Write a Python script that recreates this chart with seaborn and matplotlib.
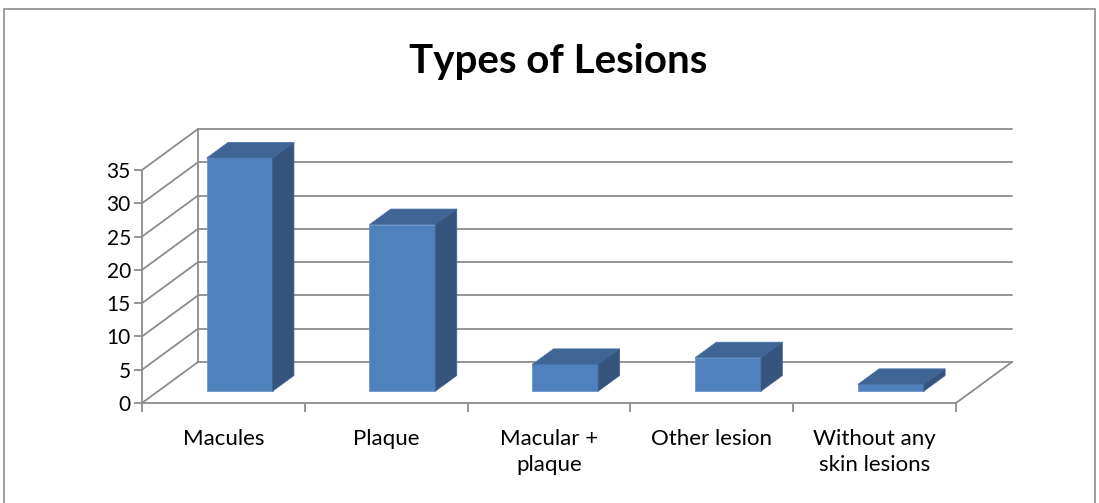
import numpy as np
import matplotlib
matplotlib.use("Agg")
import matplotlib.pyplot as plt
from matplotlib.patches import Polygon, Rectangle
import seaborn as sns

# data
categories = ["Macules", "Plaque", "Macular +\nplaque", "Other lesion", "Without any\nskin lesions"]
counts = [35, 25, 4, 5, 1]
y_ticks = [0, 5, 10, 15, 20, 25, 30, 35]

sns.set_theme(style="white")
plt.rcParams["font.family"] = ["Lato", "DejaVu Sans"]
plt.rcParams["text.color"] = "black"
plt.rcParams["xtick.labelcolor"] = "black"
plt.rcParams["ytick.labelcolor"] = "black"

FRONT = "#4F81BD"
TOP = "#3E6594"
SIDE = "#34547D"
GRID = "#8C8C8C"

# fake 3D depth, in data units (x: categories, y: value units)
DX = 0.344
DY = 6.16
f_off = 0.29   # where the bars sit inside the depth
f_bar = 0.38   # bar depth

fig = plt.figure(figsize=(10.99, 5.03), dpi=100)
ax = fig.add_axes([142 / 1099, 100 / 503, 870 / 1099, 274 / 503])

sns.barplot(x=categories, y=counts, color=FRONT, width=0.405, saturation=1,
            edgecolor="#6B95C9", linewidth=0.6, ax=ax, zorder=3)

ymax = y_ticks[-1]
ax.set_xlim(-0.5, len(categories) - 0.5 + DX)
ax.set_ylim(0, ymax + DY)

# back wall, side wall and floor
for v in y_ticks:
    ax.plot([-0.5 + DX, len(categories) - 0.5 + DX], [v + DY, v + DY],
            color=GRID, lw=1.3, clip_on=False, zorder=1)
    ax.plot([-0.5, -0.5 + DX], [v, v + DY], color=GRID, lw=1.3, clip_on=False, zorder=1)
ax.plot([-0.5 + DX, -0.5 + DX], [DY, ymax + DY], color=GRID, lw=1.3, clip_on=False, zorder=1)
ax.plot([len(categories) - 0.5, len(categories) - 0.5 + DX], [0, DY],
        color=GRID, lw=1.3, clip_on=False, zorder=1)

# turn the flat bars into boxes
off_x, off_y = f_off * DX, f_off * DY
bdx, bdy = f_bar * DX, f_bar * DY
for p in list(ax.patches):
    x0 = p.get_x() + off_x
    w = p.get_width()
    h = p.get_height()
    p.set_x(x0)
    p.set_y(off_y)
    x1 = x0 + w
    y0, y1 = off_y, off_y + h
    top = Polygon([(x0, y1), (x1, y1), (x1 + bdx, y1 + bdy), (x0 + bdx, y1 + bdy)],
                  closed=True, facecolor=TOP, edgecolor="#4A73A6", lw=0.6, zorder=3)
    side = Polygon([(x1, y0), (x1 + bdx, y0 + bdy), (x1 + bdx, y1 + bdy), (x1, y1)],
                   closed=True, facecolor=SIDE, edgecolor="#40628F", lw=0.6, zorder=3)
    ax.add_patch(top)
    ax.add_patch(side)

for s in ["top", "right"]:
    ax.spines[s].set_visible(False)
ax.spines["left"].set_bounds(0, ymax)
ax.spines["bottom"].set_bounds(-0.5, len(categories) - 0.5)
for s in ["left", "bottom"]:
    ax.spines[s].set_color(GRID)
    ax.spines[s].set_linewidth(1.3)

ax.set_yticks(y_ticks)
ax.set_yticklabels([str(v) for v in y_ticks], fontsize=15, color="black")
ax.tick_params(axis="y", length=6, width=1.3, color=GRID, direction="out", pad=2, left=True)

ax.set_xticks(range(len(categories)))
ax.set_xticklabels(categories, fontsize=16, linespacing=1.4, color="black")
ax.set_xticks(np.arange(-0.5, len(categories), 1), minor=True)
ax.tick_params(axis="x", which="major", length=0, pad=18.5)
ax.tick_params(axis="x", which="minor", length=6.5, width=1.3, color=GRID,
               direction="out", bottom=True)
ax.set_xlabel("")
ax.set_ylabel("")
ax.grid(False)

fig.text(558 / 1099, 1 - 61 / 503, "Types of Lesions", ha="center", va="center",
         fontsize=29, fontweight="bold", color="black")

fig.patches.append(Rectangle((4 / 1099, -0.05), 1091 / 1099, 494 / 503 + 0.05,
                             transform=fig.transFigure, fill=False,
                             edgecolor=GRID, lw=1.2))

fig.savefig("out.png", dpi=100)
